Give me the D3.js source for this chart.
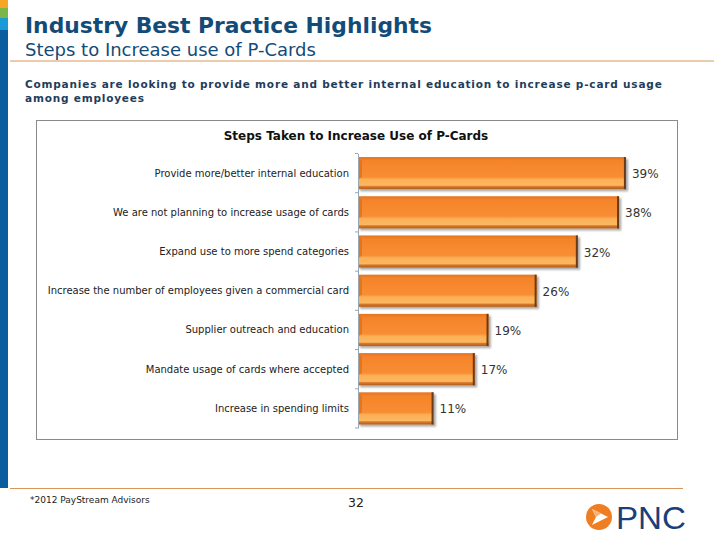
<!DOCTYPE html>
<html>
<head>
<meta charset="utf-8">
<script src="https://cdn.jsdelivr.net/npm/d3@7"></script>
<style>
  html, body { margin: 0; padding: 0; background: #fff; }
  svg { display: block; }
</style>
</head>
<body>
<svg id="chart" width="720" height="540"></svg>
<script>
const categories = [
  "Provide more/better internal education",
  "We are not planning to increase usage of cards",
  "Expand use to more spend categories",
  "Increase the number of employees given a commercial card",
  "Supplier outreach and education",
  "Mandate usage of cards where accepted",
  "Increase in spending limits"
];
const values = [39, 38, 32, 26, 19, 17, 11];
const valueLabels = ["39%", "38%", "32%", "26%", "19%", "17%", "11%"];

const title = "Industry Best Practice Highlights";
const subtitle = "Steps to Increase use of P-Cards";
const descLines = [
  "Companies are looking to provide more and better internal education to increase p-card usage",
  "among employees"
];
const chartTitle = "Steps Taken to Increase Use of P-Cards";
const footnote = "*2012 PayStream Advisors";
const pageNumber = "32";

const svg = d3.select("#chart");
const defs = svg.append("defs");

// Left decorative stripe
svg.append("rect").attr("x", 0).attr("y", 0).attr("width", 8).attr("height", 8).attr("fill", "#f5a623");
svg.append("rect").attr("x", 0).attr("y", 8).attr("width", 8).attr("height", 10).attr("fill", "#7ab648");
svg.append("rect").attr("x", 0).attr("y", 18).attr("width", 8).attr("height", 12).attr("fill", "#1a9ad6");
svg.append("rect").attr("x", 0).attr("y", 30).attr("width", 8).attr("height", 458).attr("fill", "#0a5ea0");

// Header
svg.append("text").attr("x", 25).attr("y", 33)
  .attr("font-family", "DejaVu Sans, Verdana, sans-serif").attr("font-weight", "bold")
  .attr("font-size", 21.8).attr("fill", "#134b78").text(title);
svg.append("text").attr("x", 25).attr("y", 56)
  .attr("font-family", "DejaVu Sans, Verdana, sans-serif")
  .attr("font-size", 18).attr("fill", "#134b78").text(subtitle);
svg.append("line").attr("x1", 10).attr("x2", 714).attr("y1", 61).attr("y2", 61)
  .attr("stroke", "#d9955a").attr("stroke-width", 1.2);

svg.selectAll("text.desc").data(descLines).enter().append("text")
  .attr("class", "desc")
  .attr("x", 25).attr("y", (d, i) => 88 + i * 14)
  .attr("font-family", "DejaVu Sans, Verdana, sans-serif").attr("font-weight", "bold")
  .attr("font-size", 10.5).attr("letter-spacing", 0.81).attr("fill", "#1e3d5c")
  .text(d => d);

// Chart frame
svg.append("rect").attr("x", 36.5).attr("y", 120.5).attr("width", 641).attr("height", 319)
  .attr("fill", "#fff").attr("stroke", "#8a8a8a").attr("stroke-width", 1);

svg.append("text").attr("x", 356).attr("y", 140).attr("text-anchor", "middle")
  .attr("font-family", "DejaVu Sans, Tahoma, sans-serif").attr("font-weight", "bold")
  .attr("font-size", 12).attr("fill", "#111").text(chartTitle);

// Scales
const x0 = 358;
const x = d3.scaleLinear().domain([0, 45]).range([x0, x0 + 45 * 6.87]);
const y = d3.scaleBand().domain(categories).range([153.5, 428]).paddingInner(0.18).paddingOuter(0.09);

// Gradients for bars
const g1 = defs.append("linearGradient").attr("id", "barGrad").attr("x1", 0).attr("x2", 0).attr("y1", 0).attr("y2", 1);
[[0, "#e47420"], [0.12, "#f5842a"], [0.62, "#f88d33"], [0.70, "#fbb058"], [0.88, "#fcb75e"], [0.92, "#d8772a"], [1, "#b05e1e"]]
  .forEach(([o, c]) => g1.append("stop").attr("offset", o).attr("stop-color", c));

const gShadow = defs.append("filter").attr("id", "shadow").attr("x", "-5%").attr("y", "-20%").attr("width", "115%").attr("height", "160%");
gShadow.append("feGaussianBlur").attr("in", "SourceAlpha").attr("stdDeviation", 1.2);
gShadow.append("feOffset").attr("dx", 2).attr("dy", 2).attr("result", "ob");
gShadow.append("feComponentTransfer").append("feFuncA").attr("type", "linear").attr("slope", 0.35);
const merge = gShadow.append("feMerge");
merge.append("feMergeNode");
merge.append("feMergeNode").attr("in", "SourceGraphic");

const bars = svg.append("g");
categories.forEach((c, i) => {
  const g = bars.append("g").attr("filter", "url(#shadow)");
  const bx = x(0), bw = x(values[i]) - x(0), by = y(c), bh = y.bandwidth();
  g.append("rect").attr("x", bx).attr("y", by).attr("width", bw).attr("height", bh)
    .attr("fill", "url(#barGrad)");
  // left bevel
  g.append("path")
    .attr("d", `M${bx},${by} L${bx + 4},${by + 4} L${bx + 4},${by + bh * 0.62} L${bx},${by + bh * 0.7} Z`)
    .attr("fill", "#e0701c").attr("opacity", 0.8);
  // right dark edge
  g.append("rect").attr("x", bx + bw - 2).attr("y", by).attr("width", 2).attr("height", bh)
    .attr("fill", "#6b3a12");
});

// Axis
const axis = d3.axisLeft(y).tickSize(0).tickFormat("");
const axG = svg.append("g").attr("transform", `translate(${x0},0)`).call(axis);
axG.select(".domain").attr("stroke", "#9aa6b2");
const bounds = d3.range(categories.length + 1).map(i => i === categories.length
  ? y(categories[i - 1]) + y.bandwidth() + y.step() * y.paddingInner() / 2
  : y(categories[i]) - y.step() * y.paddingInner() / 2);
svg.selectAll("line.btick").data(bounds).enter().append("line")
  .attr("class", "btick").attr("x1", x0 - 3).attr("x2", x0)
  .attr("y1", d => d).attr("y2", d => d).attr("stroke", "#9aa6b2");

// Category labels
svg.selectAll("text.cat").data(categories).enter().append("text")
  .attr("class", "cat")
  .attr("x", 349).attr("y", d => y(d) + y.bandwidth() / 2 + 3.5)
  .attr("text-anchor", "end")
  .attr("font-family", "DejaVu Sans, Tahoma, sans-serif").attr("font-size", 10)
  .attr("fill", "#222").text(d => d);

// Value labels
svg.selectAll("text.val").data(values).enter().append("text")
  .attr("class", "val")
  .attr("x", d => x(d) + 6).attr("y", (d, i) => y(categories[i]) + y.bandwidth() / 2 + 5)
  .attr("font-family", "DejaVu Sans, Verdana, sans-serif").attr("font-size", 12)
  .attr("fill", "#333").text((d, i) => valueLabels[i]);

// Footer
svg.append("line").attr("x1", 10).attr("x2", 683).attr("y1", 488.5).attr("y2", 488.5)
  .attr("stroke", "#d9955a").attr("stroke-width", 1.2);
svg.append("text").attr("x", 30).attr("y", 503)
  .attr("font-family", "DejaVu Sans, Verdana, sans-serif").attr("font-size", 9)
  .attr("fill", "#222").text(footnote);
svg.append("text").attr("x", 356).attr("y", 507).attr("text-anchor", "middle")
  .attr("font-family", "DejaVu Sans, Verdana, sans-serif").attr("font-size", 12.5)
  .attr("fill", "#222").text(pageNumber);

// PNC logo
const logo = svg.append("g").attr("transform", "translate(599,517)");
logo.append("circle").attr("r", 13).attr("fill", "#ef7d22");
logo.append("path").attr("d", "M-7,-8 L9,0 L-7,8 L-3,0 Z").attr("fill", "#fff");
logo.append("path").attr("d", "M-7,-8 L2,-3.5 L-3,0 Z").attr("fill", "#f7b27a");
svg.append("text").attr("x", 616).attr("y", 529)
  .attr("font-family", "Liberation Sans Narrow, Liberation Sans, sans-serif")
  .attr("font-size", 31).attr("fill", "#1b3f7a").attr("textLength", 70).attr("lengthAdjust", "spacingAndGlyphs")
  .text("PNC");
</script>
</body>
</html>
